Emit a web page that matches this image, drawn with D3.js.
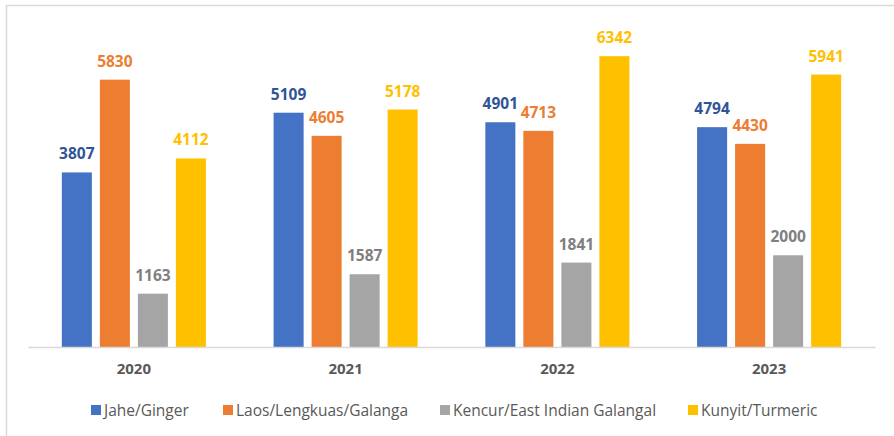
<!DOCTYPE html>
<html>
<head>
<meta charset="utf-8">
<script src="https://cdn.jsdelivr.net/npm/d3@7"></script>
<style>
  body { margin: 0; background: #fff; }
  svg { display: block; }
</style>
</head>
<body>
<script>
var years = ['2020', '2021', '2022', '2023'];
var seriesNames = ['Jahe/Ginger', 'Laos/Lengkuas/Galanga', 'Kencur/East Indian Galangal', 'Kunyit/Turmeric'];
var ginger = [3807, 5109, 4901, 4794];
var galanga = [5830, 4605, 4713, 4430];
var kencur = [1163, 1587, 1841, 2000];
var turmeric = [4112, 5178, 6342, 5941];

var barColors = ['#4472C4', '#ED7D31', '#A5A5A5', '#FFC000'];
var labelColors = ['#2F5597', '#ED7D31', '#7F7F7F', '#FFC000'];

var w = 894,
    h = 436;

var font = '"Open Sans", sans-serif';

var series = [ginger, galanga, kencur, turmeric];

var svg = d3.select('body')
  .append('svg')
  .attr('width', w)
  .attr('height', h);

// chart frame
svg.append('rect')
  .attr('x', 6.5)
  .attr('y', 5.5)
  .attr('width', 900)
  .attr('height', 450)
  .attr('fill', '#fff')
  .attr('stroke', '#d9d9d9')
  .attr('stroke-width', 1.5);

var x0 = d3.scaleBand()
  .domain(years)
  .range([28, 875]);

var x1 = d3.scaleBand()
  .domain(d3.range(series.length))
  .range([0, x0.bandwidth()])
  .paddingInner(0.21)
  .paddingOuter(0.89);

var y = d3.scaleLinear()
  .domain([0, 7000])
  .range([347, 26]);

var groups = svg.append('g')
  .selectAll('g')
  .data(years)
  .join('g')
  .attr('transform', function(d) { return 'translate(' + x0(d) + ',0)'; });

groups.selectAll('rect')
  .data(function(d, i) {
      return series.map(function(s, j) { return {s: j, v: s[i]}; });
  })
  .join('rect')
  .attr('x', function(d) { return x1(d.s); })
  .attr('width', x1.bandwidth())
  .attr('y', function(d) { return y(d.v); })
  .attr('height', function(d) { return y(0) - y(d.v); })
  .attr('fill', function(d) { return barColors[d.s]; });

groups.selectAll('text')
  .data(function(d, i) {
      return series.map(function(s, j) { return {s: j, v: s[i]}; });
  })
  .join('text')
  .attr('x', function(d) { return x1(d.s) + x1.bandwidth() / 2; })
  .attr('y', function(d) { return y(d.v) - 13; })
  .attr('text-anchor', 'middle')
  .attr('font-family', font)
  .attr('font-weight', 'bold')
  .attr('font-size', 15.5)
  .attr('fill', function(d) { return labelColors[d.s]; })
  .text(function(d) { return d.v; });

// x axis
var xAxis = svg.append('g')
  .attr('transform', 'translate(0,' + y(0) + ')')
  .call(d3.axisBottom(x0).tickSize(0).tickPadding(16));

xAxis.select('.domain')
  .attr('stroke', '#d9d9d9')
  .attr('stroke-width', 1.5);

xAxis.selectAll('text')
  .attr('font-family', font)
  .attr('font-weight', 'bold')
  .attr('font-size', 15)
  .attr('fill', '#595959');

// legend
var legendX = [91, 223, 440, 688];
var legend = svg.append('g')
  .selectAll('g')
  .data(seriesNames)
  .join('g')
  .attr('transform', function(d, i) { return 'translate(' + legendX[i] + ',405)'; });

legend.append('rect')
  .attr('width', 10)
  .attr('height', 10)
  .attr('fill', function(d, i) { return barColors[i]; });

legend.append('text')
  .attr('x', 13)
  .attr('y', 10.5)
  .attr('font-family', font)
  .attr('font-size', 15.5)
  .attr('fill', '#595959')
  .text(function(d) { return d; });
</script>
</body>
</html>
